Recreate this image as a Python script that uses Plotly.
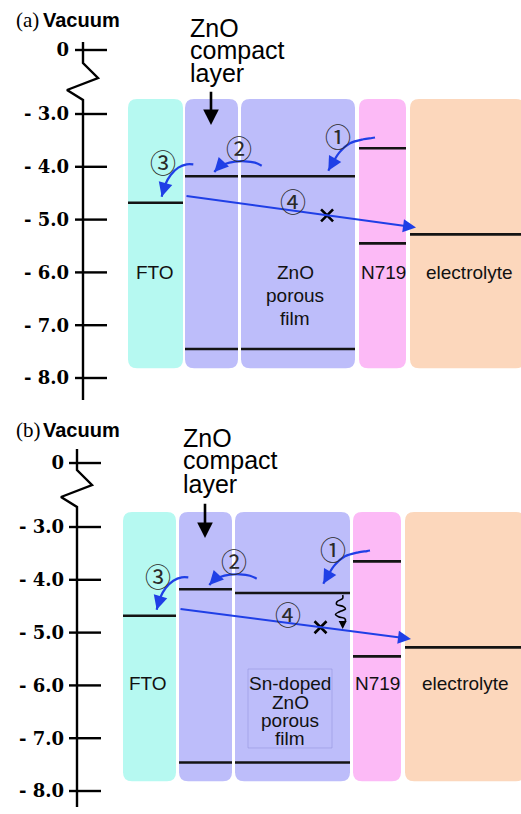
import plotly.graph_objects as go

# ------------------------------------------------------------------
# DATA  (energies in eV relative to vacuum; index 0 -> panel (a), 1 -> panel (b))
# ------------------------------------------------------------------
TICK_VALUES = [0, -3, -4, -5, -6, -7, -8]
TICK_LABELS = ["0", "- 3.0", "- 4.0", "- 5.0", "- 6.0", "- 7.0", "- 8.0"]
LAYERS = ["FTO", "ZnO compact layer", "ZnO porous film", "N719", "electrolyte"]
PANEL_TAGS = ["(a)", "(b)"]
POROUS_LABELS = [["ZnO", "porous", "film"], ["Sn-doped", "ZnO", "porous", "film"]]

FTO_LEVEL = [-4.68, -4.68]
COMPACT_CB = [-4.18, -4.18]
COMPACT_VB = [-7.45, -7.46]
POROUS_CB = [-4.18, -4.25]
POROUS_VB = [-7.45, -7.46]
N719_LUMO = [-3.65, -3.65]
N719_HOMO = [-5.45, -5.45]
ELECTROLYTE_LEVEL = [-5.28, -5.28]
RECOMB_START = [-4.55, -4.55]     # path 4 (back transfer to electrolyte)
RECOMB_END = [-5.15, -5.12]
BLOCK_FRACTION = [0.615, 0.61]    # where the "x" sits along path 4

# ------------------------------------------------------------------
# LAYOUT / GEOMETRY (not data)
# ------------------------------------------------------------------
W, H = 521, 814
PX_PER_EV = 52.8
BREAK = -3.0
BREAK_SCALE = 0.404               # compression of the 0 .. -3 eV break
BOX_TOP, BOX_BOT = -2.716, -7.815
PANELS = [
    dict(yref="y", ytop=-0.841, dx=0, axis_x=83, tick_x=(75, 107), label_pos=69,
         boxes=[(128, 183), (185, 238), (241, 355), (359, 406), (410, 525)],
         head_y=-1.22, compact_text_x=188,
         compact_text_y=[-1.371, -1.788, -2.224], compact_arrow=(211, -2.55, -3.21),
         label_y=-5.993, label_dy=0.436, porous_x=295, fto_x=155, n719_x=383, el_x=469,
         recomb_end_x=416),
    dict(yref="y2", ytop=-0.727, dx=-5, axis_x=77, tick_x=(69, 101), label_pos=64,
         boxes=[(123, 176), (179, 232), (235, 350), (353, 401), (405, 525)],
         head_y=-1.17, compact_text_x=181,
         compact_text_y=[-1.314, -1.731, -2.185], compact_arrow=(205, -2.53, -3.21),
         label_y=-5.97, label_dy=0.347, porous_x=290, fto_x=148, n719_x=377, el_x=465,
         recomb_end_x=411),
]
BOX_COLORS = ["#b6f9f1", "#bdbdfa", "#bdbdfa", "#fcbaf6", "#fcd7bc"]
BLUE = "#1f3fe6"
LEVEL_COLOR = "#141414"

# hand-drawn curved transfer arrows (x in px units of the x axis, y in eV), panel (a) frame
CURVES = {
    "1": [(375, -3.445), (372, -3.455), (363.3, -3.479), (350, -3.555), (340, -3.714), (333.3, -3.904), (328.3, -4.074)],
    "2": [(261.7, -3.979), (255, -3.922), (245, -3.896), (235, -3.903), (225, -3.947), (218.3, -4.017), (214.3, -4.099)],
    "3": [(193.3, -3.953), (186.7, -3.953), (178.3, -4.017), (170.7, -4.155), (165, -4.345), (161.7, -4.566)],
}
CIRCLED = [("①", 338, -3.40), ("②", 239, -3.625), ("③", 163, -3.909), ("④", 293, -4.629)]
SQUIGGLE_B = [(342.7, -4.288), (342.7, -4.350), (337, -4.415), (336.5, -4.464), (343.5, -4.509),
              (345.5, -4.553), (339.5, -4.604), (335.5, -4.653), (338.5, -4.700), (344.5, -4.729),
              (345.5, -4.775), (342.7, -4.812), (342.7, -4.850)]
SQUIGGLE_TIP = (342.7, -4.93)
SN_FRAME = (248, 332, -5.689, -7.185)


def disp(e):
    return e if e <= BREAK else BREAK + (e - BREAK) * BREAK_SCALE


def rrect(x0, x1, y0, y1, rx, ry):
    return (f"M{x0+rx},{y1} L{x1-rx},{y1} Q{x1},{y1} {x1},{y1-ry} "
            f"L{x1},{y0+ry} Q{x1},{y0} {x1-rx},{y0} L{x0+rx},{y0} "
            f"Q{x0},{y0} {x0},{y0+ry} L{x0},{y1-ry} Q{x0},{y1} {x0+rx},{y1} Z")


fig = go.Figure()
shapes, annotations = [], []
SANS = "Liberation Sans"

for i, p in enumerate(PANELS):
    yref = p["yref"]
    dx = p["dx"]
    yname = "y" if yref == "y" else "y2"

    # layer boxes
    for (x0, x1), col in zip(p["boxes"], BOX_COLORS):
        shapes.append(dict(type="path", xref="x", yref=yref, layer="below",
                           path=rrect(x0, x1, BOX_BOT, BOX_TOP, 9, 9 / PX_PER_EV),
                           fillcolor=col, line=dict(width=0)))

    # energy levels
    levels = [(0, FTO_LEVEL[i]), (1, COMPACT_CB[i]), (1, COMPACT_VB[i]), (2, POROUS_CB[i]),
              (2, POROUS_VB[i]), (3, N719_LUMO[i]), (3, N719_HOMO[i]), (4, ELECTROLYTE_LEVEL[i])]
    xs, ys = [], []
    for bi, e in levels:
        x0, x1 = p["boxes"][bi]
        xs += [x0, min(x1, W), None]
        ys += [disp(e), disp(e), None]
    fig.add_trace(go.Scatter(x=xs, y=ys, yaxis=yname, mode="lines",
                             line=dict(color=LEVEL_COLOR, width=2.6), hoverinfo="skip"))

    # energy axis with break
    ax = p["axis_x"]
    top = p["ytop"]
    axis_pts_x = [ax, ax, ax + 15, ax - 16, ax, ax]
    axis_pts_y = [top - 42 / PX_PER_EV, top - 63 / PX_PER_EV, top - 78 / PX_PER_EV,
                  top - 90 / PX_PER_EV, top - 100 / PX_PER_EV, top - 400 / PX_PER_EV]
    fig.add_trace(go.Scatter(x=axis_pts_x, y=axis_pts_y, yaxis=yname, mode="lines",
                             line=dict(color="black", width=2.4), hoverinfo="skip"))
    tx, ty = [], []
    for v in TICK_VALUES:
        tx += [p["tick_x"][0], p["tick_x"][1], None]
        ty += [disp(v), disp(v), None]
    fig.add_trace(go.Scatter(x=tx, y=ty, yaxis=yname, mode="lines",
                             line=dict(color="black", width=2.4), hoverinfo="skip"))

    # headers
    annotations.append(dict(x=14, y=p["head_y"], xref="x", yref=yref, text=PANEL_TAGS[i],
                            showarrow=False, xanchor="left",
                            font=dict(family="Liberation Serif", size=21, color="black")))
    annotations.append(dict(x=41, y=p["head_y"], xref="x", yref=yref, text="Vacuum",
                            showarrow=False, xanchor="left",
                            font=dict(family=SANS, size=20, color="black", weight="bold")))

    # "ZnO compact layer" pointer
    for line_txt, yy in zip(["ZnO", "compact", "layer"], p["compact_text_y"]):
        annotations.append(dict(x=p["compact_text_x"], y=yy, xref="x", yref=yref, text=line_txt,
                                showarrow=False, xanchor="left",
                                font=dict(family=SANS, size=25, color="black")))
    cx, cy0, cy1 = p["compact_arrow"]
    annotations.append(dict(x=cx, y=cy1, ax=cx, ay=cy0, xref="x", yref=yref, axref="x", ayref=yref,
                            text="", showarrow=True, arrowhead=2, arrowsize=1.2, arrowwidth=2.6,
                            arrowcolor="black"))

    # layer labels
    ly = p["label_y"]
    for txt, xx in [("FTO", p["fto_x"]), ("N719", p["n719_x"]), ("electrolyte", p["el_x"])]:
        annotations.append(dict(x=xx, y=ly, xref="x", yref=yref, text=txt, showarrow=False,
                                font=dict(family=SANS, size=19, color="#111")))
    for k, txt in enumerate(POROUS_LABELS[i]):
        annotations.append(dict(x=p["porous_x"], y=ly - k * p["label_dy"], xref="x", yref=yref,
                                text=txt, showarrow=False,
                                font=dict(family=SANS, size=19, color="#111")))

    # path 4: back transfer with block mark
    x_start = p["boxes"][1][0]
    x_end = p["recomb_end_x"]
    annotations.append(dict(x=x_end, y=RECOMB_END[i], ax=x_start, ay=RECOMB_START[i],
                            xref="x", yref=yref, axref="x", ayref=yref, text="", showarrow=True,
                            arrowhead=2, arrowsize=1.3, arrowwidth=2.0, arrowcolor=BLUE))
    f = BLOCK_FRACTION[i]
    bx = x_start + f * (x_end - x_start)
    by = RECOMB_START[i] + f * (RECOMB_END[i] - RECOMB_START[i])
    fig.add_trace(go.Scatter(x=[bx], y=[by], yaxis=yname, mode="markers",
                             marker=dict(symbol="x-thin", size=12,
                                         line=dict(width=2.6, color="black")),
                             hoverinfo="skip"))

    # curved transfer arrows 1-3
    for key, pts in CURVES.items():
        cxs = [x + dx for x, _ in pts]
        cys = [y for _, y in pts]
        fig.add_trace(go.Scatter(x=cxs, y=cys, yaxis=yname, mode="lines",
                                 line=dict(color=BLUE, width=2.2, shape="spline"),
                                 hoverinfo="skip"))
        annotations.append(dict(x=cxs[-1], y=cys[-1], ax=cxs[-2], ay=cys[-2], xref="x", yref=yref,
                                axref="x", ayref=yref, text="", showarrow=True, arrowhead=2,
                                arrowsize=1.4, arrowwidth=2.0, arrowcolor=BLUE))

    for txt, xx, yy in CIRCLED:
        annotations.append(dict(x=xx + dx, y=yy, xref="x", yref=yref, text=txt, showarrow=False,
                                font=dict(family="Noto Sans CJK JP", size=26, color="#2a2a2a")))

# panel (b) extras: relaxation squiggle and faint frame round the label
fig.add_trace(go.Scatter(x=[q[0] for q in SQUIGGLE_B], y=[q[1] for q in SQUIGGLE_B], yaxis="y2",
                         mode="lines", line=dict(color="black", width=1.6, shape="spline"),
                         hoverinfo="skip"))
annotations.append(dict(x=SQUIGGLE_TIP[0], y=SQUIGGLE_TIP[1], ax=SQUIGGLE_B[-1][0], ay=SQUIGGLE_B[-1][1],
                        xref="x", yref="y2", axref="x", ayref="y2", text="", showarrow=True,
                        arrowhead=2, arrowsize=1.0, arrowwidth=1.6, arrowcolor="black"))
sx0, sx1, sy0, sy1 = SN_FRAME
shapes.append(dict(type="rect", xref="x", yref="y2", x0=sx0, x1=sx1, y0=sy0, y1=sy1,
                   line=dict(color="rgba(140,140,215,0.45)", width=1), fillcolor="rgba(0,0,0,0)",
                   layer="below"))

axis_common = dict(showgrid=False, zeroline=False, showline=False, ticks="",
                   tickvals=[disp(v) for v in TICK_VALUES], ticktext=TICK_LABELS,
                   tickfont=dict(family="DejaVu Serif", size=18, color="black", weight="bold"),
                   anchor="free", automargin=False, fixedrange=True)

fig.update_layout(
    width=W, height=H, margin=dict(l=0, r=0, t=0, b=0),
    paper_bgcolor="white", plot_bgcolor="white", showlegend=False, template="none",
    xaxis=dict(range=[0, W], domain=[0, 1], visible=False, fixedrange=True),
    yaxis=dict(domain=[0.5, 1], range=[PANELS[0]["ytop"] - 407 / PX_PER_EV, PANELS[0]["ytop"]],
               position=PANELS[0]["label_pos"] / W, **axis_common),
    yaxis2=dict(domain=[0, 0.5], range=[PANELS[1]["ytop"] - 407 / PX_PER_EV, PANELS[1]["ytop"]],
                position=PANELS[1]["label_pos"] / W, **axis_common),
    shapes=shapes, annotations=annotations,
)

fig.write_html("out.html")
